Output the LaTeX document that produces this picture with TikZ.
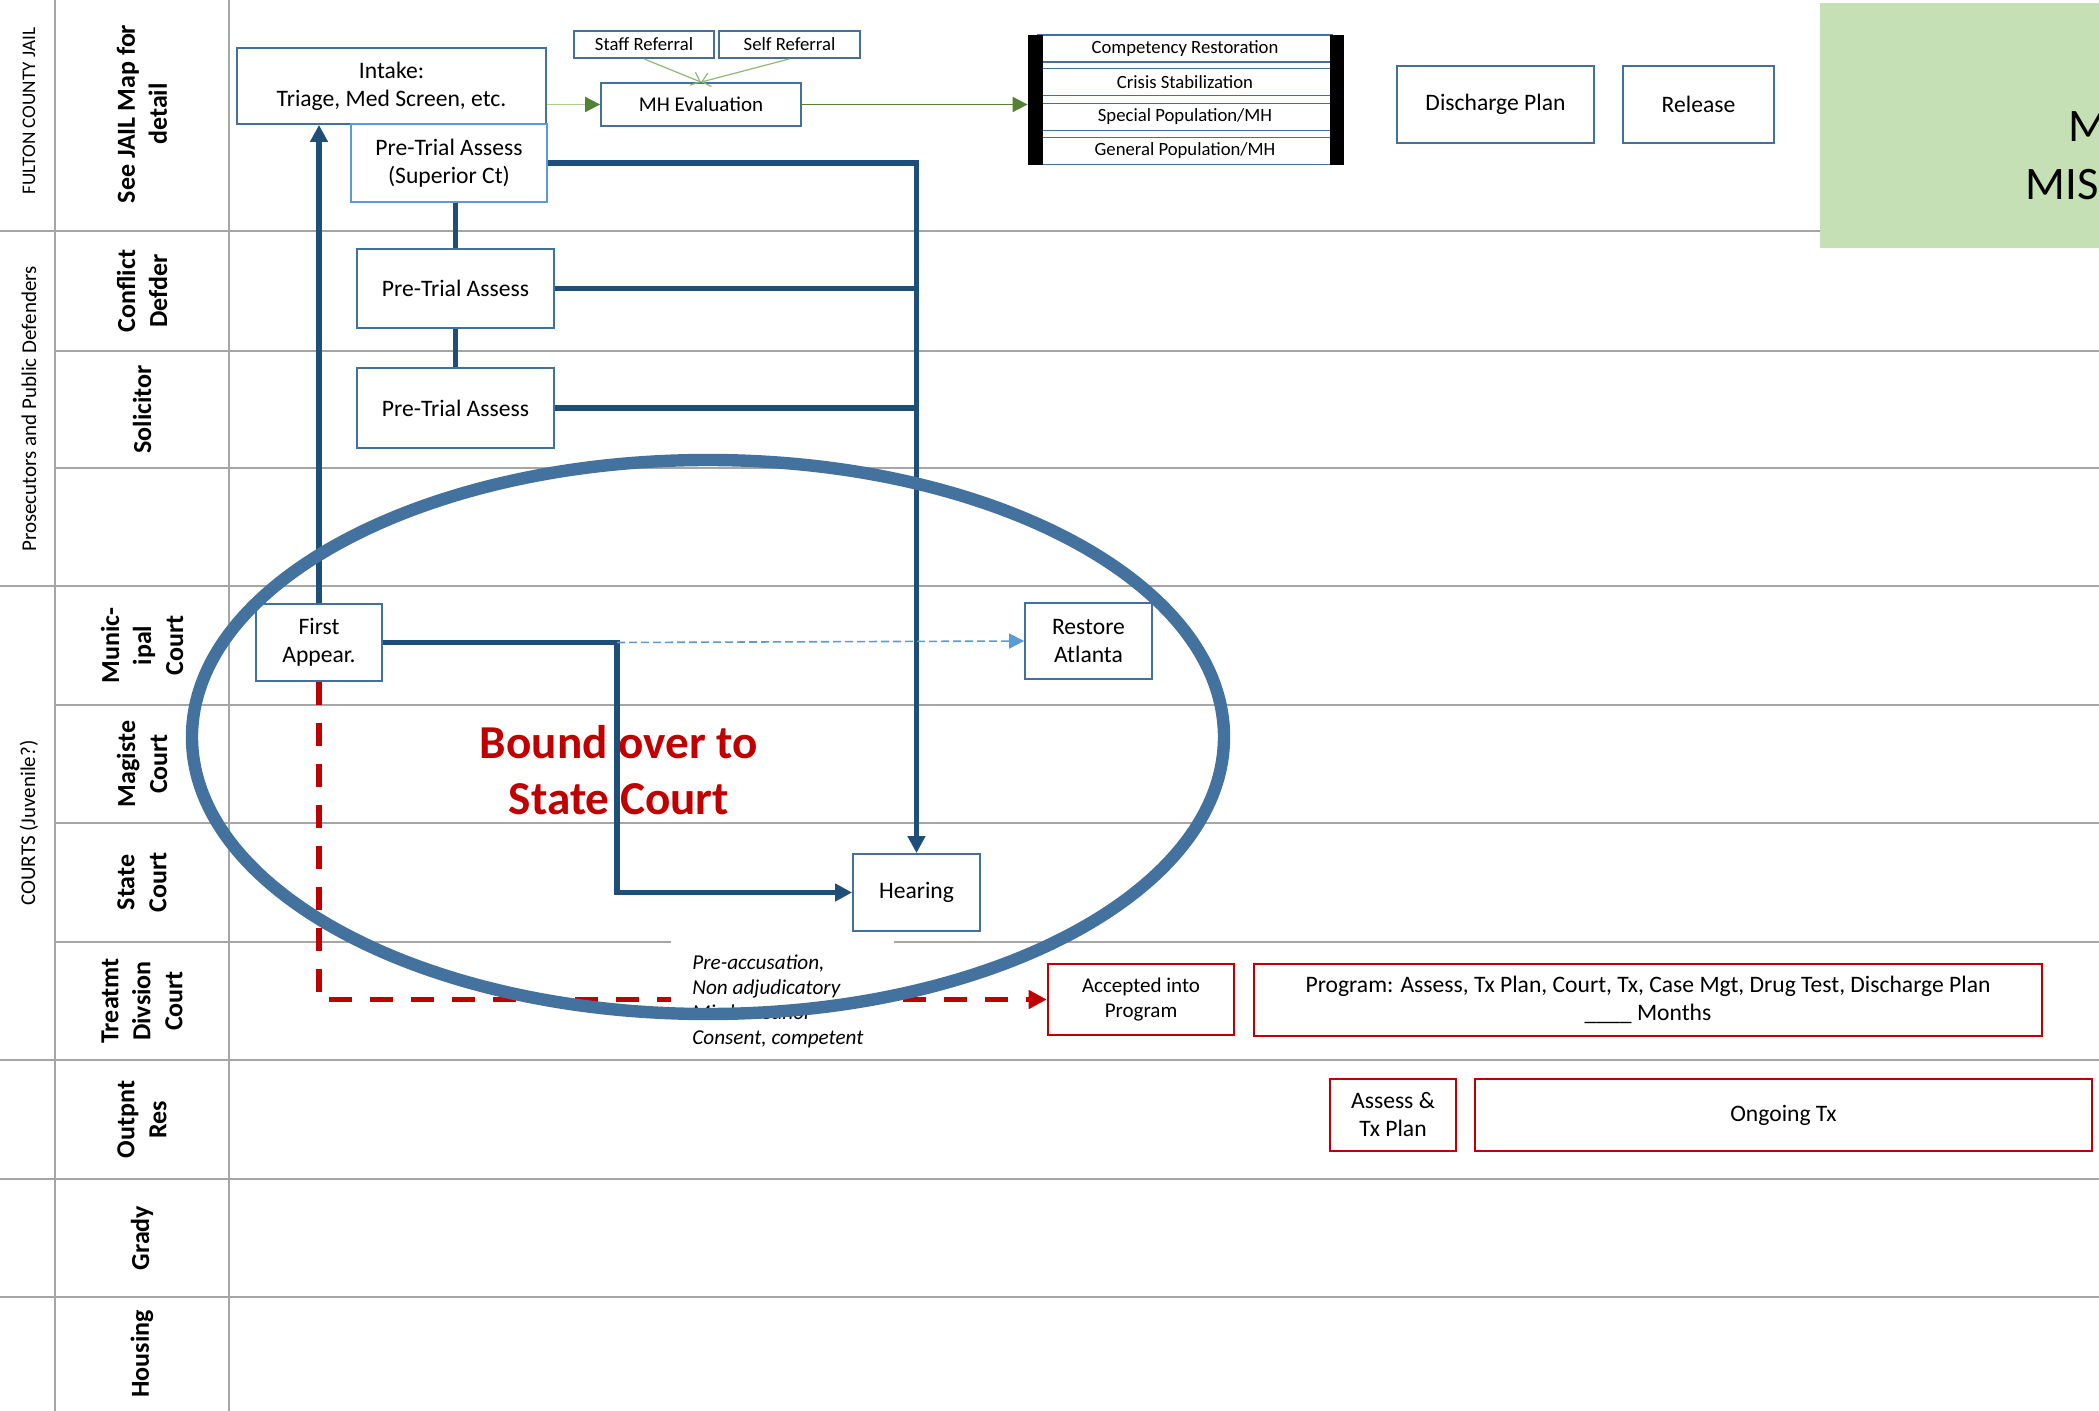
\documentclass[tikz,border=0pt]{standalone}
\usepackage{fontspec}
\setmainfont{Carlito}
\usetikzlibrary{arrows.meta,calc}
\definecolor{gridgray}{HTML}{A6A6A6}
\definecolor{boxblue}{HTML}{41719C}
\definecolor{lightblue}{HTML}{5B9BD5}
\definecolor{darkblue}{HTML}{1F4E79}
\definecolor{ellblue}{HTML}{44729F}
\definecolor{redc}{HTML}{C00000}
\definecolor{greenfill}{HTML}{C5E0B4}
\definecolor{greenline}{HTML}{548235}
\definecolor{lightgreen}{HTML}{A9D18E}
\begin{document}
\begin{tikzpicture}[x=0.5pt,y=-0.5pt,
  gridline/.style={draw=gridgray,line width=1.35pt},
  bx/.style={draw=boxblue,line width=0.9pt,fill=white,inner sep=0pt,align=center,font=\fontsize{11.8}{14}\selectfont},
  rbx/.style={bx,draw=redc,line width=1.3pt},
  smallfont/.style={font=\fontsize{9.35}{11}\selectfont},
  midfont/.style={font=\fontsize{10.5}{12.2}\selectfont},
  rowlab/.style={rotate=90,align=center,inner sep=0pt,font=\fontsize{13}{16}\selectfont\bfseries},
  grouplab/.style={rotate=90,inner sep=0pt,font=\fontsize{10.5}{12.6}\selectfont},
  conn/.style={draw=darkblue,line width=2.6pt},
  arr/.style={-{Triangle[length=8.5pt,width=8.5pt]}},
  garr/.style={-{Triangle[length=7.5pt,width=7.5pt,color=greenline]}},
]
\useasboundingbox (0,0) rectangle (2099,1411);
\fill[white] (0,0) rectangle (2099,1411);

% grid
\draw[gridline] (55,0) -- (55,1411);
\draw[gridline] (229,0) -- (229,1411);
\foreach \yy in {231,586,1060,1179,1297} {\draw[gridline] (0,\yy) -- (2099,\yy);}
\foreach \yy in {351,468,705,823,942} {\draw[gridline] (55,\yy) -- (2099,\yy);}

% green box
\fill[greenfill] (1820,3) rectangle (2099,248);
\begin{scope}
\clip (1820,3) rectangle (2099,248);
\node[anchor=base west,inner sep=0pt,font=\fontsize{23.3}{28}\selectfont] (misA) at (2068,142) {M};
\node[anchor=base west,inner sep=0pt,font=\fontsize{23.3}{28}\selectfont] (misB) at (2025,200) {MIS};
\end{scope}

% group labels
\node[grouplab,font=\fontsize{9.6}{11.5}\selectfont] (g1) at (29,111) {FULTON COUNTY JAIL};
\node[grouplab] (g2) at (29,409) {Prosecutors and Public Defenders};
\node[grouplab] (g3) at (29,823) {COURTS (Juvenile?)};

% row labels
\node[rowlab] (lab1) at (142,114) {See JAIL Map for\\detail};
\node[rowlab] (lab2) at (142,291) {Conflict\\Defder};
\node[rowlab] (lab3) at (142,409.5) {Solicitor};
\node[rowlab] (lab5) at (142,645.5) {Munic-\\ipal\\Court};
\node[rowlab] (lab6) at (142,764) {Magiste\\Court};
\node[rowlab] (lab7) at (142,882.5) {State\\Court};
\node[rowlab] (lab8) at (142,1001) {Treatmt\\Divsion\\Court};
\node[rowlab] (lab9) at (142,1119.5) {Outpnt\\Res};
\node[rowlab] (lab10) at (142,1238) {Grady};
\node[rowlab] (lab11) at (142,1354) {Housing};

% red caption
\node[anchor=base,inner sep=0pt,text=redc,font=\fontsize{23.6}{28}\selectfont\bfseries] (bound1) at (619,758) {Bound over to};
\node[anchor=base,inner sep=0pt,text=redc,font=\fontsize{23.6}{28}\selectfont\bfseries] (bound2) at (619,814) {State Court};

% boxes
\node[bx,minimum width=154.5pt,minimum height=38pt] (intake) at (391.5,86) {Intake:\\Triage, Med Screen, etc.};
\node[bx,draw=lightblue,minimum width=98pt,minimum height=39pt] (ptsup) at (449,163) {Pre-Trial Assess\\(Superior Ct)};
\node[bx,smallfont,minimum width=70pt,minimum height=13.5pt] (staff) at (644,44.5) {Staff Referral};
\node[bx,smallfont,minimum width=70.5pt,minimum height=13.5pt] (self) at (789.5,44.5) {Self Referral};
\node[bx,midfont,minimum width=100pt,minimum height=21.5pt] (mheval) at (701,104.5) {MH Evaluation};
\node[bx,smallfont,minimum width=147pt,minimum height=13.5pt] (cr) at (1185,48.5) {Competency Restoration};
\node[bx,smallfont,minimum width=147pt,minimum height=13.5pt] (cs) at (1185,82) {Crisis Stabilization};
\node[bx,smallfont,minimum width=147pt,minimum height=13.5pt] (sp) at (1185,117) {Special Population/MH};
\node[bx,smallfont,minimum width=147pt,minimum height=13.5pt] (gp) at (1185,151) {General Population/MH};
\node[fill=black,inner sep=0pt,minimum width=7.5pt,minimum height=65pt] (barL) at (1035.5,100) {};
\node[fill=black,inner sep=0pt,minimum width=7pt,minimum height=65pt] (barR) at (1337,100) {};
\node[bx,minimum width=98.5pt,minimum height=38.5pt] (discharge) at (1495.5,104.5) {Discharge Plan};
\node[bx,minimum width=75.5pt,minimum height=38.5pt] (release) at (1698.5,104.5) {Release};
\node[bx,minimum width=98.5pt,minimum height=39.5pt] (ptcon) at (455.5,288.5) {Pre-Trial Assess};
\node[bx,minimum width=98.5pt,minimum height=40pt] (ptsol) at (455.5,408) {Pre-Trial Assess};
\node[bx,minimum width=63pt,minimum height=38.5pt] (first) at (319,642.5) {First\\Appear.};
\node[bx,minimum width=63.5pt,minimum height=38pt] (restore) at (1088.5,641) {Restore\\Atlanta};
\node[bx,minimum width=63.5pt,minimum height=38.5pt] (hearing) at (916.5,892.5) {Hearing};
\node[rbx,midfont,minimum width=93pt,minimum height=35.5pt] (accepted) at (1141,999.5) {Accepted into\\Program};
\node[rbx,minimum width=394pt,minimum height=36pt] (program) at (1648,1000) {Program: Assess, Tx Plan, Court, Tx, Case Mgt, Drug Test, Discharge Plan\\\_\_\_\_ Months};
\node[rbx,minimum width=63pt,minimum height=36pt] (assess) at (1393,1115) {Assess \&\\Tx Plan};
\node[rbx,minimum width=308.5pt,minimum height=36pt] (ongoing) at (1783.5,1115) {Ongoing Tx};

% green connectors
\draw[lightgreen,line width=0.9pt,garr] (intake.east |- mheval.west) -- (mheval.west);
\draw[greenline,line width=0.9pt,garr] (mheval.east) -- (barL.west |- mheval.east);
\draw[lightgreen!70!greenline,line width=0.6pt,-{Straight Barb[length=4pt,width=7pt]}] (staff.south) -- (mheval.north);
\draw[lightgreen!70!greenline,line width=0.6pt,-{Straight Barb[length=4pt,width=7pt]}] (self.south) -- (mheval.north);

% blue connectors
\draw[conn,arr] (first.north) -- (first.north |- intake.south);
\draw[conn] (ptcon.north |- ptsup.south) -- (ptcon.north);
\draw[conn] (ptcon.south) -- (ptsol.north);
\draw[conn,arr] (ptsup.east) -- (hearing.north |- ptsup.east) -- (hearing.north);
\draw[conn] (ptcon.east) -- (hearing.north |- ptcon.east);
\draw[conn] (ptsol.east) -- (hearing.north |- ptsol.east);
\coordinate (fork) at (617,642.5);
\draw[conn,arr] (first.east) -- (fork) -- (fork |- hearing.west) -- (hearing.west);
\draw[lightblue,line width=0.8pt,dash pattern=on 4pt off 2pt,-{Triangle[length=7.5pt,width=7.5pt]}] (fork) -- (restore.west);

% red dashed connector
\draw[redc,line width=2.75pt,dash pattern=on 11.5pt off 9pt,-{Triangle[length=9pt,width=9pt]}] (first.south) -- (first.south |- accepted.west) -- (accepted.west);

% criteria text on white
\node[fill=white,inner sep=0pt,minimum width=111.5pt,minimum height=59.5pt] (wbox) at (782.5,998.5) {};
\node[anchor=north west,align=left,inner sep=0pt,font=\fontsize{10.6}{12.5}\selectfont\itshape] (crit) at (692,954) {Pre-accusation,\\Non adjudicatory\\Misdemeanor\\Consent, competent};

% ellipse
\draw[ellblue,line width=6.2pt] (708,737) ellipse [x radius=258pt, y radius=138.5pt];
\end{tikzpicture}
\end{document}
